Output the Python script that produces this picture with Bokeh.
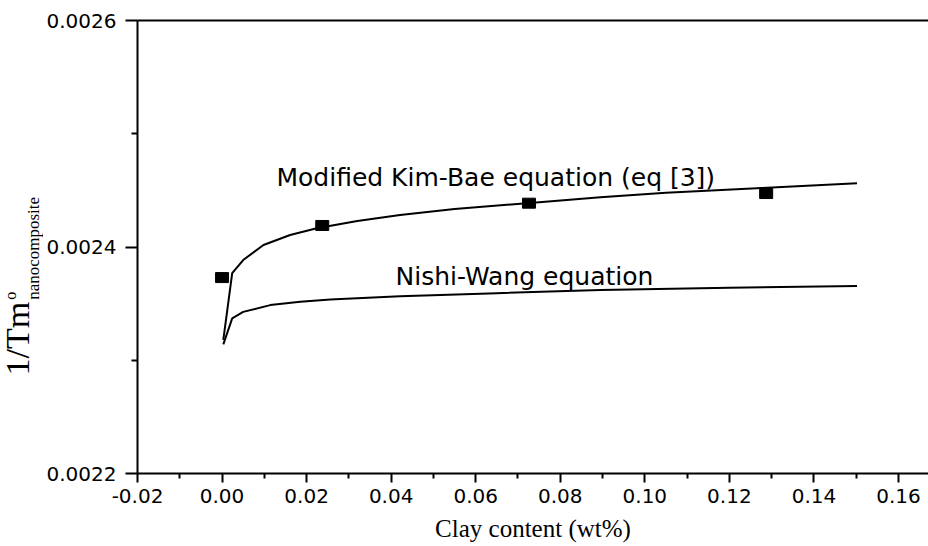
from bokeh.plotting import figure
from bokeh.layouts import row
from bokeh.models import (LinearAxis, FixedTicker, NumeralTickFormatter, Range1d,
                          ColumnDataSource)
from bokeh.core.properties import value
from bokeh.embed import file_html
from bokeh.resources import INLINE

# ---------------- data ----------------
kb_x = [0.0003, 0.0024, 0.0050, 0.0098, 0.0161, 0.0224, 0.0320, 0.0421,
        0.0550, 0.0721, 0.0895, 0.1050, 0.1265, 0.1502]
kb_y = [0.002318, 0.002377, 0.0023885, 0.0024018, 0.0024106, 0.0024165,
        0.0024230, 0.0024283, 0.0024335, 0.0024387, 0.0024440, 0.0024478,
        0.0024519, 0.0024564]

nw_x = [0.0003, 0.0024, 0.0050, 0.0114, 0.0185, 0.0256, 0.0421, 0.0650,
        0.0895, 0.1200, 0.1502]
nw_y = [0.002314, 0.002337, 0.0023427, 0.0023487, 0.0023516, 0.0023537,
        0.0023566, 0.0023592, 0.0023620, 0.0023640, 0.0023655]

sq_x = [0.0000, 0.0237, 0.0726, 0.1287]
sq_y = [0.0023730, 0.0024190, 0.0024387, 0.0024472]

curve_labels = ["Modified Kim-Bae equation (eq [3])", "Nishi-Wang equation"]

x_ticks = [-0.02, 0.0, 0.02, 0.04, 0.06, 0.08, 0.10, 0.12, 0.14, 0.16]
x_minor = [-0.01, 0.01, 0.03, 0.05, 0.07, 0.09, 0.11, 0.13, 0.15]
y_ticks = [0.0022, 0.0024, 0.0026]
y_minor = [0.0023, 0.0025]

x_title = "Clay content (wt%)"
y_title_main = "1/Tm"
y_title_sup = "o"
y_title_sub = "nanocomposite"

# ---------------- layout ----------------
W, H = 928, 546
TW = 43                       # width of the strip holding the y title
LEFT, TOP, BOTTOM = 137, 20, 73
X0, X1 = -0.02, 0.1671
Y0, Y1 = 0.0022, 0.0026

p = figure(width=W - TW, height=H, output_backend="svg", toolbar_location=None,
           x_range=Range1d(X0, X1), y_range=Range1d(Y0, Y1),
           x_axis_type=None, y_axis_type=None,
           min_border_left=LEFT - TW, min_border_right=0,
           min_border_top=TOP, min_border_bottom=BOTTOM)
p.outline_line_color = None
p.xgrid.visible = False
p.ygrid.visible = False
p.background_fill_color = "white"
p.border_fill_color = "white"

TICK_FONT = "DejaVu Sans"

xaxis = LinearAxis(ticker=FixedTicker(ticks=x_ticks, minor_ticks=x_minor),
                   formatter=NumeralTickFormatter(format="0.00"),
                   axis_label=x_title)
xaxis.axis_line_width = 2
xaxis.major_tick_line_width = 2
xaxis.minor_tick_line_width = 2
xaxis.major_tick_out = 9
xaxis.major_tick_in = 0
xaxis.minor_tick_out = 5
xaxis.minor_tick_in = 0
xaxis.major_label_text_font = TICK_FONT
xaxis.major_label_text_font_size = "20px"
xaxis.major_label_text_color = "black"
xaxis.major_label_standoff = 6
xaxis.axis_label_text_font = "Liberation Serif"
xaxis.axis_label_text_font_style = "normal"
xaxis.axis_label_text_font_size = "25px"
xaxis.axis_label_text_color = "black"
xaxis.axis_label_standoff = 9
p.add_layout(xaxis, "below")

yaxis = LinearAxis(ticker=FixedTicker(ticks=y_ticks, minor_ticks=y_minor),
                   formatter=NumeralTickFormatter(format="0.0000"))
yaxis.axis_line_width = 2
yaxis.major_tick_line_width = 2
yaxis.minor_tick_line_width = 2
yaxis.major_tick_out = 12
yaxis.major_tick_in = 0
yaxis.minor_tick_out = 6
yaxis.minor_tick_in = 0
yaxis.major_label_text_font = TICK_FONT
yaxis.major_label_text_font_size = "20px"
yaxis.major_label_text_color = "black"
yaxis.major_label_standoff = 9
p.add_layout(yaxis, "left")

top = LinearAxis(ticker=FixedTicker(ticks=[]))
top.axis_line_width = 2
top.major_tick_out = 0
top.minor_tick_out = 0
top.major_label_text_font_size = "0px"
p.add_layout(top, "above")

# ---------------- marks ----------------
p.line(kb_x, kb_y, line_color="black", line_width=2)
p.line(nw_x, nw_y, line_color="black", line_width=2)
p.rect(x=sq_x, y=sq_y, width=13, height=10, width_units="screen",
       height_units="screen", fill_color="black", line_color="black")

FW = W - LEFT
FH = H - TOP - BOTTOM
def sx(px):
    return X0 + (px - LEFT) * (X1 - X0) / FW
def sy(py):
    return Y0 + (H - BOTTOM - py) * (Y1 - Y0) / FH

lab_src = ColumnDataSource(dict(x=[sx(276), sx(395)], y=[sy(177), sy(276)],
                                text=curve_labels))
p.text(x="x", y="y", text="text", source=lab_src,
       text_font=value("DejaVu Sans"), text_font_size=value("25px"),
       text_color="black", text_align="left", text_baseline="alphabetic")

# ---------------- y-axis title strip: 1/Tm^o_nanocomposite ----------------
# Its frame is given the same vertical borders as the main plot, so the
# same y mapping (sy) applies; x is in page pixels (0..TW).
t = figure(width=TW, height=H, output_backend="svg", toolbar_location=None,
           x_range=Range1d(0, TW), y_range=Range1d(Y0, Y1),
           x_axis_type=None, y_axis_type=None, title=None,
           min_border_left=0, min_border_right=0,
           min_border_top=TOP, min_border_bottom=BOTTOM)
t.outline_line_color = None
t.xgrid.visible = False
t.ygrid.visible = False
t.background_fill_color = "white"
t.border_fill_color = "white"

MID = 0.3375          # em-box middle above the baseline (Liberation Serif)
main_size, sub_size = 34, 17
main_len = 2.167 * main_size
sub_len = 6.055 * sub_size
bottom_y = 375        # page px where "1/Tm" starts
base_main = 28        # page px of the main baseline
after = bottom_y - main_len - 2

def put(txt, size, base_x, start_y, length):
    cx = base_x - MID * size
    cy = start_y - length / 2
    t.text(x=[cx], y=[sy(cy)], text=[txt], angle=90, angle_units="deg",
           text_font=value("Liberation Serif"),
           text_font_size=value(f"{size}px"), text_color="black",
           text_align="center", text_baseline="middle")

put(y_title_main, main_size, base_main, bottom_y, main_len)
put(y_title_sup, 16, base_main - 13, after, 8)
put(y_title_sub, sub_size, base_main + 11, after, sub_len)

layout = row(t, p, spacing=0)
open("out.html", "w").write(file_html(layout, INLINE))
